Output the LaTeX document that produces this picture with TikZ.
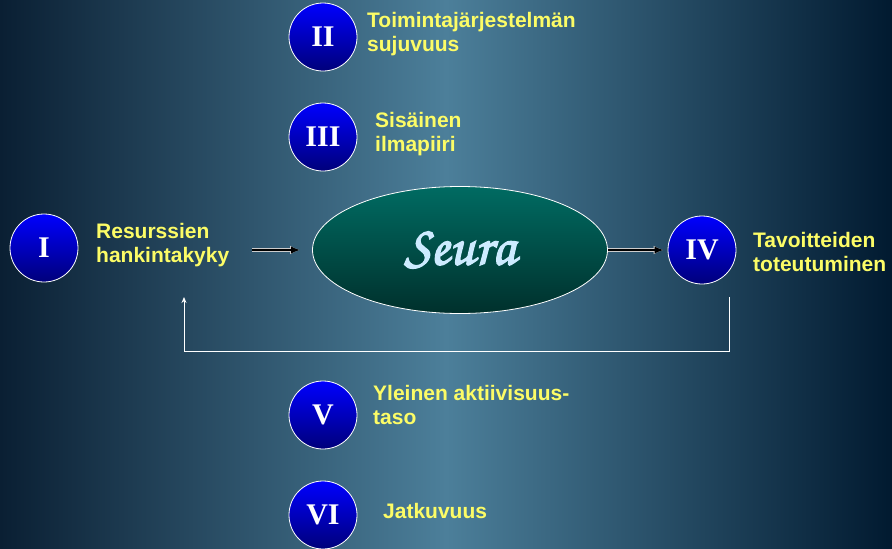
\documentclass[tikz,border=0pt]{standalone}
\usepackage{fontspec}
\newfontfamily\labelfont{Liberation Sans}
\newfontfamily\numfont{Liberation Serif}
\newfontfamily\seurafont[FakeBold=2.5]{TeX Gyre Chorus}
\usetikzlibrary{arrows.meta,shapes.geometric}

\definecolor{bgdark}{HTML}{0A1F33}
\definecolor{bgdarkr}{HTML}{011A30}
\definecolor{bglight}{HTML}{4C7F9A}
\definecolor{txtyellow}{HTML}{FCFC66}
\definecolor{seuratext}{HTML}{CDEBFF}
\definecolor{balltop}{HTML}{0000FF}
\definecolor{ballbot}{HTML}{00007A}
\definecolor{ovaltop}{HTML}{006B62}
\definecolor{ovalbot}{HTML}{00302C}

\tikzset{
  numball/.style={circle,draw=white,line width=0.8pt,minimum size=68pt,inner sep=0pt,
    top color=balltop,bottom color=ballbot,text=white,
    font=\numfont\bfseries\fontsize{30}{30}\selectfont},
  lbl/.style={anchor=north west,inner sep=0pt,text=txtyellow,align=left,
    font=\labelfont\bfseries\fontsize{21}{24}\selectfont},
  flowarrow/.style={-{Latex[length=9pt,width=7.5pt]},line width=2.8pt,black,
    preaction={draw=gray!40,line width=4pt,-{Latex[length=10pt,width=9pt]}}},
  backline/.style={white,line width=0.9pt}
}

\begin{document}
\begin{tikzpicture}[x=1pt,y=-1pt]
  \shade[left color=bgdark,right color=bgdarkr,middle color=bglight] (0,0) rectangle (892,549);
  \useasboundingbox (0,0) rectangle (892,549);

  % numbered balls
  \node[numball] (n1) at (44,248) {I};
  \node[numball] (n2) at (323,37) {II};
  \node[numball] (n3) at (323,137) {III};
  \node[numball] (n4) at (702,250) {IV};
  \node[numball] (n5) at (323,415) {V};
  \node[numball] (n6) at (323,515) {VI};

  % labels
  \node[lbl] (l1) at (96,223) {Resurssien\\hankintakyky};
  \node[lbl] (l2) at (367,12) {Toimintajärjestelmän\\sujuvuus};
  \node[lbl] (l3) at (375,112) {Sisäinen\\ilmapiiri};
  \node[lbl] (l4) at (753,232) {Tavoitteiden\\toteutuminen};
  \node[lbl] (l5) at (373,385) {Yleinen aktiivisuus-\\taso};
  \node[lbl] (l6) at (383,503) {Jatkuvuus};

  % centre
  \node[ellipse,draw=white,line width=0.8pt,minimum width=295pt,minimum height=127pt,
    top color=ovaltop,bottom color=ovalbot] (seura) at (460,250)
    {\seurafont\fontsize{56}{56}\selectfont\textcolor{seuratext}{Seura}};

  \draw[flowarrow] (252,250) -- ([xshift=-12pt]seura.west);
  \draw[flowarrow] (seura.east) -- ([xshift=-4pt]n4.west);

  % feedback
  \coordinate (fbstart) at (729,297);
  \coordinate (fbend) at (184,297);
  \draw[backline,-{Stealth[length=6pt,width=5pt]}] (fbstart) |- (184,351) -- (fbend);
\end{tikzpicture}
\end{document}
